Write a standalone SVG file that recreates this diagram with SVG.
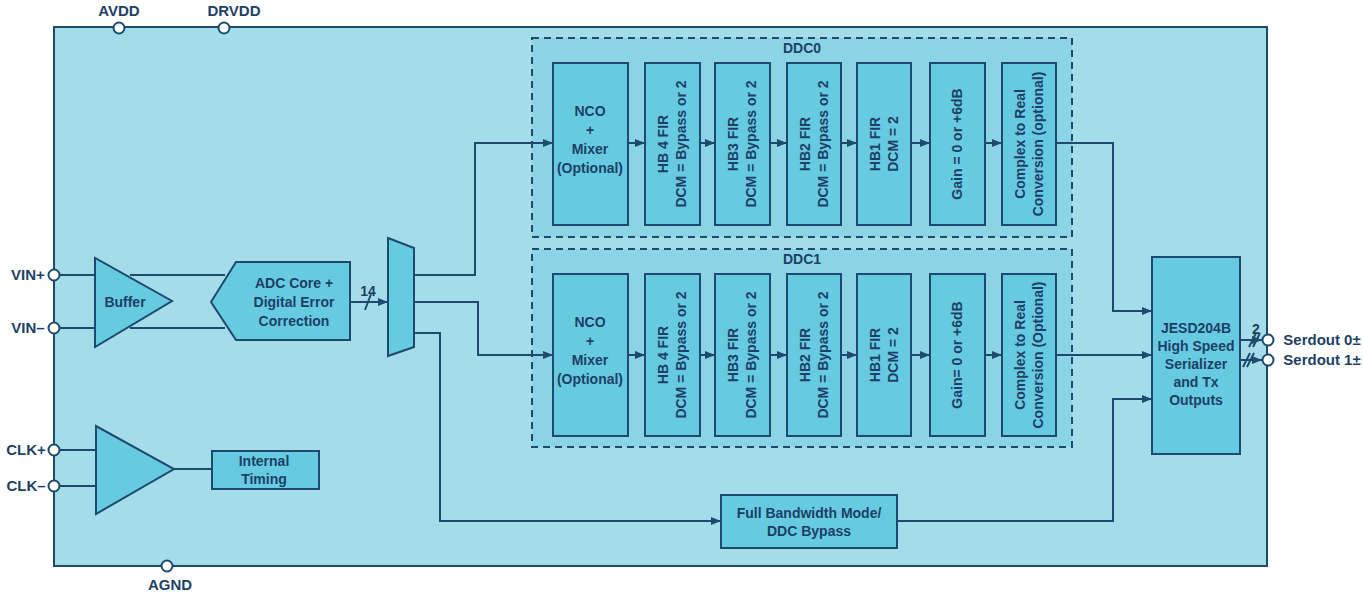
<svg xmlns="http://www.w3.org/2000/svg" width="1363" height="594" viewBox="0 0 1363 594">
<defs>
<marker id="ar" markerWidth="10" markerHeight="8" refX="10" refY="4" orient="auto" markerUnits="userSpaceOnUse"><path d="M0,0 L10,4 L0,8 Z" fill="#1d4a6e"/></marker>
<style>
.b{fill:#66cbe0;stroke:#1d4a6e;stroke-width:2}
.d{fill:#8bd4e6;stroke:#1d4a6e;stroke-width:2;stroke-dasharray:7,5}
.l{fill:none;stroke:#1d4a6e;stroke-width:2}
.a{fill:none;stroke:#1d4a6e;stroke-width:2;marker-end:url(#ar)}
.p{fill:#fff;stroke:#1d4a6e;stroke-width:2}
text{font-family:"Liberation Sans",Arial,sans-serif;font-weight:bold;fill:#1e3f66;font-size:14px;text-anchor:middle}
.t{font-size:15px}
</style>
</defs>
<rect width="1363" height="594" fill="#fff"/>
<rect x="54" y="27" width="1213" height="539" fill="#a5dcea" stroke="#1d4a6e" stroke-width="2"/>
<g id="ddc0"><rect class="d" x="532" y="38" width="540" height="199"/><text x="802" y="53">DDC0</text></g>
<g id="ddc1"><rect class="d" x="532" y="249" width="540" height="198"/><text x="802" y="264">DDC1</text></g>
<g id="connectors">
<line class="l" x1="54" y1="275" x2="95" y2="275"/><line class="l" x1="54" y1="328" x2="95" y2="328"/>
<line class="l" x1="130" y1="275" x2="225" y2="275"/><line class="l" x1="130" y1="328" x2="225" y2="328"/>
<path class="a" d="M350,302 H388"/><line class="l" x1="365" y1="310" x2="371" y2="294"/>
<path class="a" d="M414,275 H475 V143 H553"/>
<path class="a" d="M414,302 H478 V355 H553"/>
<path class="a" d="M414,333 H440 V521 H721"/>
<path class="a" d="M897,521 H1113 V399 H1152"/>
<path class="a" d="M1056,143 H1113 V311 H1152"/>
<path class="a" d="M1056,355 H1152"/>
<path class="a" d="M628,143 H645"/><path class="a" d="M700,143 H715"/><path class="a" d="M770,143 H787"/><path class="a" d="M841,143 H857"/><path class="a" d="M911,143 H930"/><path class="a" d="M985,143 H1002"/>
<path class="a" d="M628,355 H645"/><path class="a" d="M700,355 H715"/><path class="a" d="M770,355 H787"/><path class="a" d="M841,355 H857"/><path class="a" d="M911,355 H930"/><path class="a" d="M985,355 H1002"/>
<path class="a" d="M1240,340 H1262"/><path class="a" d="M1240,360 H1262"/>
<line class="l" x1="1249" y1="347" x2="1256" y2="333"/><line class="l" x1="1253" y1="347" x2="1260" y2="333"/>
<line class="l" x1="1243" y1="367" x2="1250" y2="353"/><line class="l" x1="1247" y1="367" x2="1254" y2="353"/>
<line class="l" x1="54" y1="450" x2="96" y2="450"/><line class="l" x1="54" y1="486" x2="96" y2="486"/>
<line class="l" x1="174" y1="469" x2="212" y2="469"/>
</g>
<text x="368" y="296" font-size="13">14</text>
<text x="1256" y="334" font-size="13">2</text>
<g id="buffer"><polygon class="b" points="95,258 95,347 172,301"/><text x="125" y="307">Buffer</text></g>
<g id="adc"><polygon class="b" points="211,302 236,262 350,262 350,340 236,340"/><text x="294" y="288">ADC Core +</text><text x="294" y="307">Digital Error</text><text x="294" y="326">Correction</text></g>
<g id="mux"><polygon class="b" points="388,238 414,248 414,347 388,356"/></g>
<g id="clkbuf"><polygon class="b" points="96,426 96,514 174,469"/></g>
<g id="timing"><rect class="b" x="212" y="451" width="107" height="38"/><text x="264" y="466">Internal</text><text x="264" y="484">Timing</text></g>
<g id="fbw"><rect class="b" x="721" y="495" width="176" height="53"/><text x="809" y="518">Full Bandwidth Mode/</text><text x="809" y="536">DDC Bypass</text></g>
<g id="jesd"><rect class="b" x="1152" y="257" width="88" height="197"/><text x="1196" y="333">JESD204B</text><text x="1196" y="351">High Speed</text><text x="1196" y="369">Serializer</text><text x="1196" y="387">and Tx</text><text x="1196" y="405">Outputs</text></g>
<g id="ddc0blocks">
<rect class="b" x="553" y="63" width="75" height="162"/><text x="590" y="116">NCO</text><text x="590" y="135">+</text><text x="590" y="154">Mixer</text><text x="590" y="173" font-weight="normal" style="font-weight:bold">(Optional)</text>
<rect class="b" x="645" y="63" width="55" height="162"/><text transform="translate(672,144) rotate(-90)" y="-4">HB 4 FIR</text><text transform="translate(672,144) rotate(-90)" y="14">DCM = Bypass or 2</text>
<rect class="b" x="715" y="63" width="55" height="162"/><text transform="translate(742,144) rotate(-90)" y="-4">HB3 FIR</text><text transform="translate(742,144) rotate(-90)" y="14">DCM = Bypass or 2</text>
<rect class="b" x="787" y="63" width="54" height="162"/><text transform="translate(814,144) rotate(-90)" y="-4">HB2 FIR</text><text transform="translate(814,144) rotate(-90)" y="14">DCM = Bypass or 2</text>
<rect class="b" x="857" y="63" width="54" height="162"/><text transform="translate(884,144) rotate(-90)" y="-4">HB1 FIR</text><text transform="translate(884,144) rotate(-90)" y="14">DCM = 2</text>
<rect class="b" x="930" y="63" width="55" height="162"/><text transform="translate(957,144) rotate(-90)" y="5">Gain = 0 or +6dB</text>
<rect class="b" x="1002" y="63" width="54" height="162"/><text transform="translate(1029,144) rotate(-90)" y="-4">Complex to Real</text><text transform="translate(1029,144) rotate(-90)" y="14">Conversion (optional)</text>
</g>
<g id="ddc1blocks">
<rect class="b" x="553" y="274" width="75" height="162"/><text x="590" y="327">NCO</text><text x="590" y="346">+</text><text x="590" y="365">Mixer</text><text x="590" y="384">(Optional)</text>
<rect class="b" x="645" y="274" width="55" height="162"/><text transform="translate(672,355) rotate(-90)" y="-4">HB 4 FIR</text><text transform="translate(672,355) rotate(-90)" y="14">DCM = Bypass or 2</text>
<rect class="b" x="715" y="274" width="55" height="162"/><text transform="translate(742,355) rotate(-90)" y="-4">HB3 FIR</text><text transform="translate(742,355) rotate(-90)" y="14">DCM = Bypass or 2</text>
<rect class="b" x="787" y="274" width="54" height="162"/><text transform="translate(814,355) rotate(-90)" y="-4">HB2 FIR</text><text transform="translate(814,355) rotate(-90)" y="14">DCM = Bypass or 2</text>
<rect class="b" x="857" y="274" width="54" height="162"/><text transform="translate(884,355) rotate(-90)" y="-4">HB1 FIR</text><text transform="translate(884,355) rotate(-90)" y="14">DCM = 2</text>
<rect class="b" x="930" y="274" width="55" height="162"/><text transform="translate(957,355) rotate(-90)" y="5">Gain= 0 or +6dB</text>
<rect class="b" x="1002" y="274" width="54" height="162"/><text transform="translate(1029,355) rotate(-90)" y="-4">Complex to Real</text><text transform="translate(1029,355) rotate(-90)" y="14">Conversion (Optional)</text>
</g>
<g id="pins">
<circle class="p" cx="54" cy="275" r="5.5"/><text x="28" y="280" class="t">VIN+</text>
<circle class="p" cx="54" cy="328" r="5.5"/><text x="28" y="333" class="t">VIN–</text>
<circle class="p" cx="54" cy="450" r="5.5"/><text x="26" y="455" class="t">CLK+</text>
<circle class="p" cx="54" cy="486" r="5.5"/><text x="26" y="491" class="t">CLK–</text>
<circle class="p" cx="119" cy="28" r="5.5"/><text x="119" y="16" class="t">AVDD</text>
<circle class="p" cx="224" cy="28" r="5.5"/><text x="234" y="16" class="t">DRVDD</text>
<circle class="p" cx="167" cy="566" r="5.5"/><text x="170" y="590" class="t">AGND</text>
<circle class="p" cx="1268" cy="340" r="5.5"/><text x="1322" y="345" class="t">Serdout 0±</text>
<circle class="p" cx="1268" cy="360" r="5.5"/><text x="1322" y="365" class="t">Serdout 1±</text>
</g>
</svg>
